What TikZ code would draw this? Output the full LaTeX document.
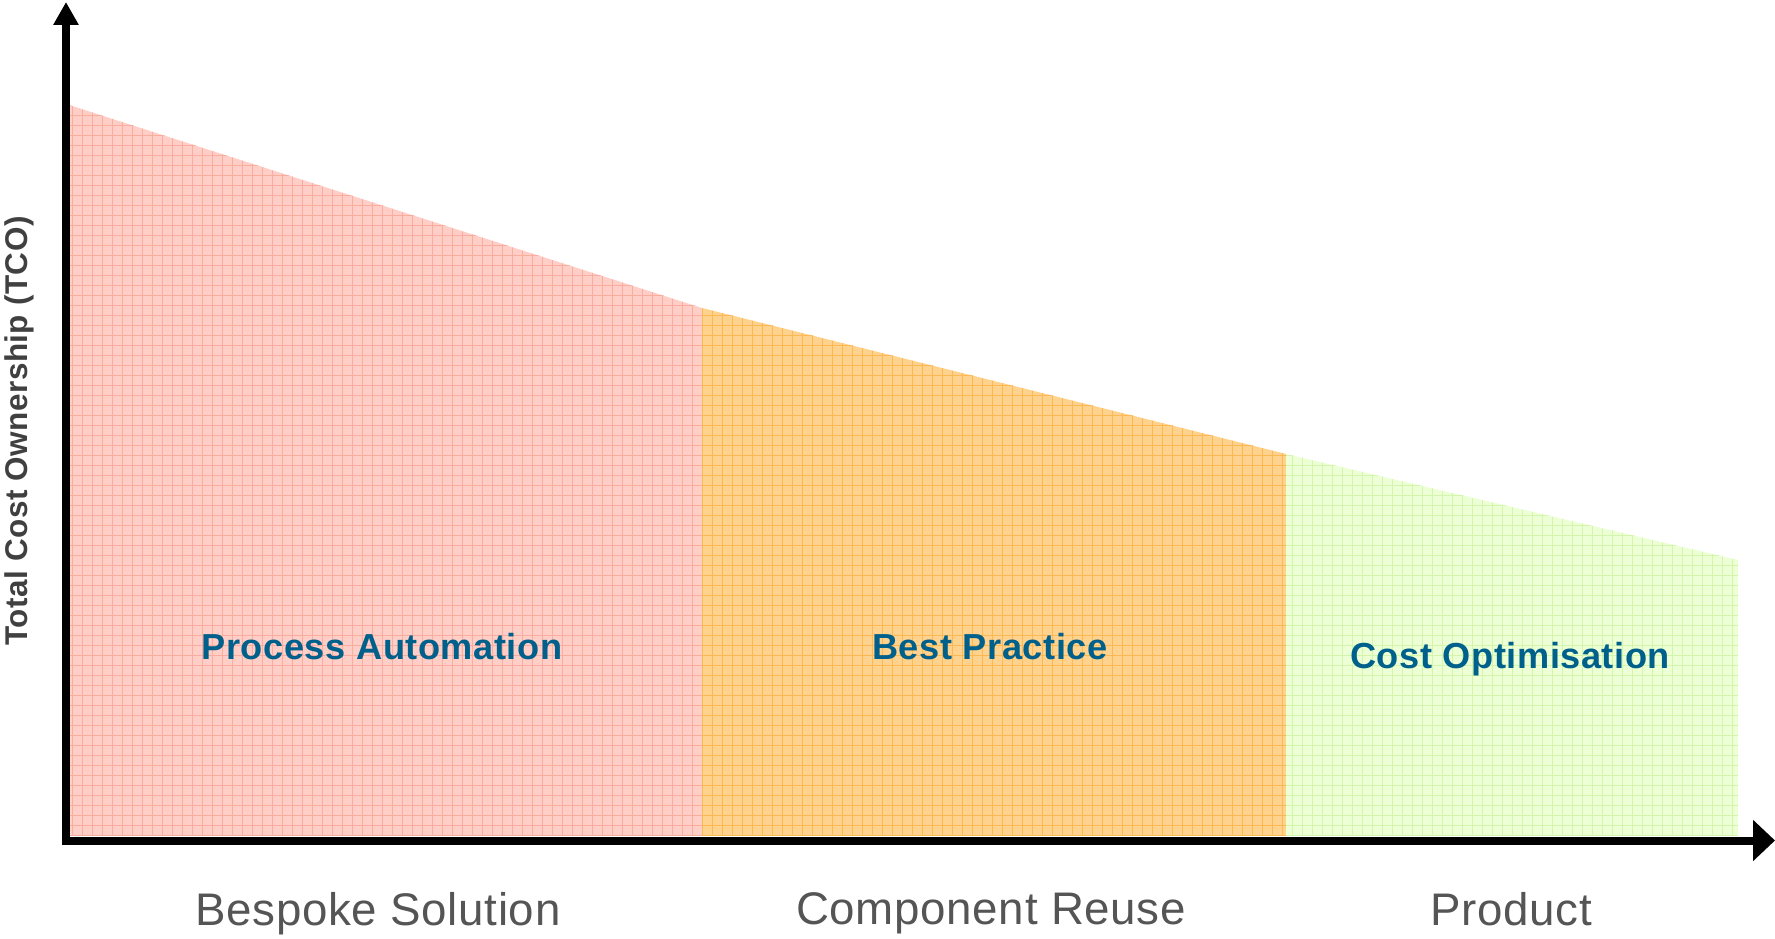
\documentclass[tikz,border=0pt]{standalone}
\usepackage{fontspec}
\setmainfont{Liberation Sans}
\usepackage{xcolor}
\usetikzlibrary{
    arrows.meta,
    positioning
}
\definecolor{tcoRed}{RGB}{255,207,199}
\definecolor{tcoRedLine}{RGB}{250,172,158}
\definecolor{tcoOrange}{RGB}{255,211,142}
\definecolor{tcoOrangeLine}{RGB}{252,184,82}
\definecolor{tcoGreen}{RGB}{236,255,213}
\definecolor{tcoGreenLine}{RGB}{212,246,172}
\definecolor{phaseBlue}{RGB}{0,96,140}
\definecolor{stageGray}{RGB}{85,85,85}
\definecolor{tcoGray}{RGB}{64,64,64}
\tikzset{%
    % Specifications for style of nodes:
    plain/.style = {inner sep=0pt},
    phase/.style = {
        plain, anchor=base, text=phaseBlue,
        font=\fontsize{20.6}{23}\selectfont\bfseries\addfontfeature{LetterSpace=1.5}
    },
    stage/.style = {
        plain, anchor=base, text=stageGray,
        font=\fontsize{26}{29}\selectfont\addfontfeature{LetterSpace=1.5}
    },
    tcolabel/.style = {
        plain, rotate=90, text=tcoGray,
        font=\fontsize{17.9}{20}\selectfont\bfseries\addfontfeature{LetterSpace=1.5}
    },
    axisline/.style = {line width=0.16cm, black},
    gridline/.style = {line width=0.018cm}
}

\begin{document}
\begin{tikzpicture}[x=0.02cm, y=-0.02cm]
    \useasboundingbox (0,0) rectangle (1775,939);
    % shaded cost regions
    \foreach \xa/\ya/\xb/\yb/\col/\line in {
        66/104/702/308/tcoRed/tcoRedLine,
        702/308/1286/454/tcoOrange/tcoOrangeLine,
        1286/454/1738/560/tcoGreen/tcoGreenLine} {
        \begin{scope}
            \clip (\xa,\ya) -- (\xb,\yb) -- (\xb,836) -- (\xa,836) -- cycle;
            \fill[\col] (\xa,0) rectangle (\xb,836);
            \foreach \gx in {2,12,...,1772}
                \draw[gridline, \line] (\gx,0) -- (\gx,836);
            \foreach \gy in {5,15,...,835}
                \draw[gridline, \line] (0,\gy) -- (1775,\gy);
        \end{scope}
    }
    % axes
    \coordinate (origin) at (62,840.5);
    \coordinate (xtip) at (1775,840.5);
    \coordinate (ybase) at (66,844);
    \coordinate (ytip) at (66,2);
    \draw[axisline, -{Triangle[width=0.8cm,length=0.44cm]}] (origin) -- (xtip);
    \draw[axisline, -{Triangle[width=0.48cm,length=0.46cm]}] (ybase) -- (ytip);
    % labels
    \node[phase] (automation) at (382,659) {Process Automation};
    \node[phase] (practice) at (990,659) {Best Practice};
    \node[phase] (optimisation) at (1510,668) {Cost Optimisation};
    \node[stage] (bespoke) at (378,925) {Bespoke Solution};
    \node[stage] (reuse) at (991,924) {Component Reuse};
    \node[stage] (product) at (1511,925) {Product};
    \node[tcolabel] (tco) at (19,431) {Total Cost Ownership (TCO)};
\end{tikzpicture}
\end{document}
